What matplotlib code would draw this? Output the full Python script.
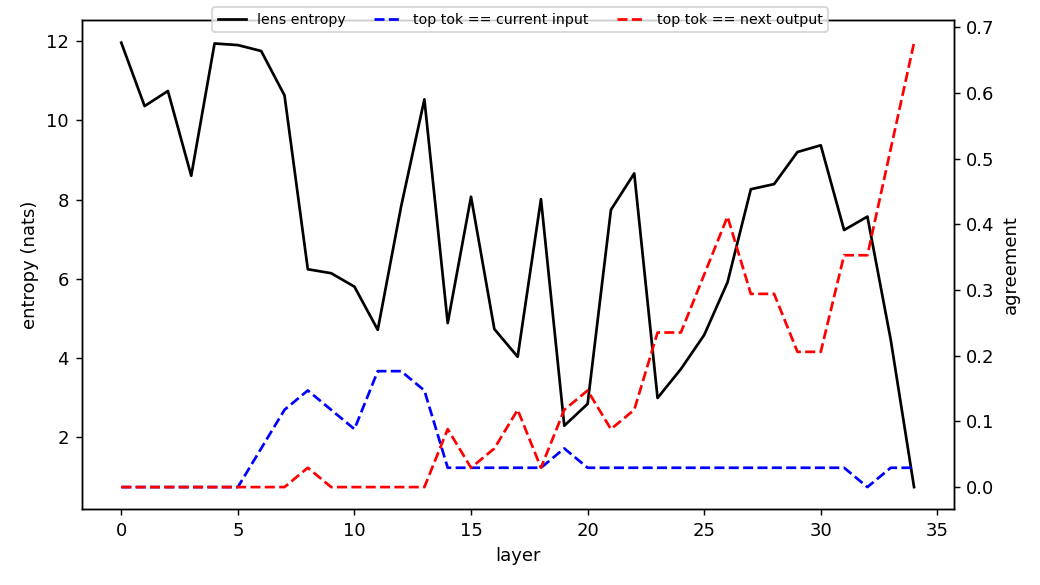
import numpy as np
import matplotlib
matplotlib.use('Agg')
import matplotlib.pyplot as plt

# 每层的数据
layers = np.arange(35)

lens_entropy = [11.96, 10.36, 10.74, 8.60, 11.94, 11.90, 11.75, 10.63, 6.24, 6.14,
                5.80, 4.71, 7.82, 10.53, 4.88, 8.07, 4.73, 4.03, 8.01, 2.29,
                2.84, 7.74, 8.66, 2.99, 3.72, 4.58, 5.91, 8.26, 8.39, 9.20,
                9.37, 7.23, 7.57, 4.46, 0.74]

# 一致率，单位约为 1/34
cur_counts = [0, 0, 0, 0, 0, 0, 2, 4, 5, 4,
              3, 6, 6, 5, 1, 1, 1, 1, 1, 2,
              1, 1, 1, 1, 1, 1, 1, 1, 1, 1,
              1, 1, 0, 1, 1]
next_counts = [0, 0, 0, 0, 0, 0, 0, 0, 1, 0,
               0, 0, 0, 0, 3, 1, 2, 4, 1, 4,
               5, 3, 4, 8, 8, 11, 14, 10, 10, 7,
               7, 12, 12, 17.5, 23]
top_is_input = np.array(cur_counts) / 34
top_is_next = np.array(next_counts) / 34

fig, ax = plt.subplots(figsize=(8, 4.5), dpi=130)
plt.subplots_adjust(left=0.0785, right=0.917, top=0.965, bottom=0.1294)

l1, = ax.plot(layers, lens_entropy, color='black', label='lens entropy')
ax.set_xlabel('layer')
ax.set_ylabel('entropy (nats)')

ax2 = ax.twinx()
l2, = ax2.plot(layers, top_is_input, '--', color='blue', label='top tok == current input')
l3, = ax2.plot(layers, top_is_next, '--', color='red', label='top tok == next output')
ax2.set_ylabel('agreement')

fig.legend(handles=[l1, l2, l3], loc='upper center', ncol=3, fontsize=7.8,
           bbox_to_anchor=(0.5, 1.0))

plt.savefig('out.png', dpi=130)
